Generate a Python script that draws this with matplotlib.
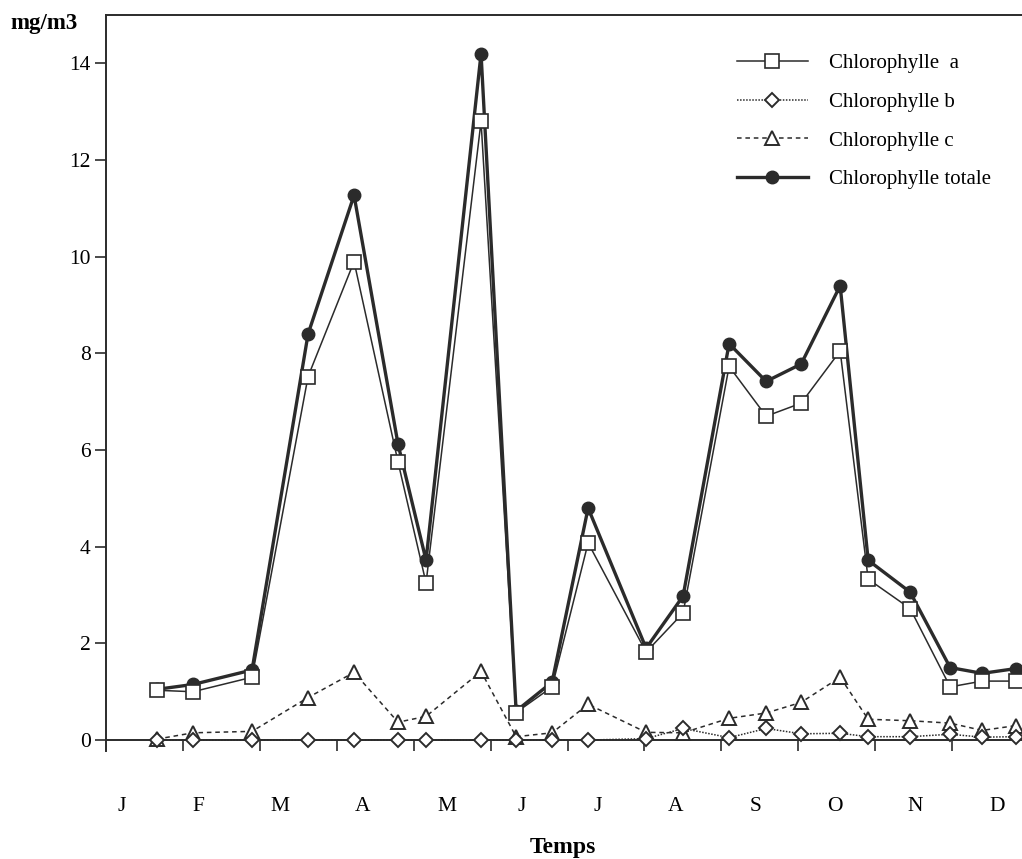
import numpy as np
import matplotlib
matplotlib.use("Agg")
import matplotlib.pyplot as plt

plt.rcParams["font.family"] = ["Liberation Serif", "DejaVu Serif"]

# sampling dates, in months from 1 January
sample_month = [0.663, 1.131, 1.899, 2.627, 3.225, 3.797, 4.161, 4.876, 5.332, 5.800, 6.268,
                7.022, 7.503, 8.101, 8.583, 9.038, 9.545, 9.909, 10.455, 10.975, 11.391, 11.834]

chl_a = [1.03, 1.00, 1.30, 7.52, 9.90, 5.75, 3.25, 12.80, 0.57, 1.10, 4.08,
         1.82, 2.63, 7.73, 6.70, 6.97, 8.05, 3.33, 2.72, 1.10, 1.22, 1.22]
chl_b = [0.0, 0.0, 0.0, 0.0, 0.0, 0.0, 0.0, 0.0, 0.0, 0.0, 0.0,
         0.03, 0.24, 0.05, 0.24, 0.13, 0.14, 0.07, 0.07, 0.12, 0.06, 0.07]
chl_c = [0.02, 0.15, 0.18, 0.88, 1.40, 0.37, 0.49, 1.42, 0.07, 0.15, 0.74,
         0.16, 0.15, 0.45, 0.56, 0.78, 1.30, 0.43, 0.40, 0.35, 0.20, 0.30]
chl_tot = [1.05, 1.15, 1.45, 8.40, 11.27, 6.12, 3.72, 14.20, 0.60, 1.20, 4.80,
           1.90, 2.98, 8.20, 7.42, 7.78, 9.40, 3.72, 3.06, 1.50, 1.38, 1.48]

month_labels = ["J", "F", "M", "A", "M", "J", "J", "A", "S", "O", "N", "D"]
month_label_pos = [0.21, 1.20, 2.26, 3.34, 4.43, 5.41, 6.39, 7.40, 8.44, 9.48, 10.52, 11.59]

ink = "#2b2b2b"

fig = plt.figure(figsize=(10.22, 8.59), dpi=100)
ax = fig.add_axes([106 / 1022, 1 - 750.7 / 859, 923 / 1022, 735.7 / 859])

ax.plot(sample_month, chl_tot, color=ink, lw=2.4, marker="o", ms=9,
        mfc=ink, mec=ink, label="Chlorophylle totale", zorder=3)
ax.plot(sample_month, chl_a, color=ink, lw=1.1, marker="s", ms=10,
        mfc="white", mec=ink, mew=1.2, label="Chlorophylle  a", zorder=4)
ax.plot(sample_month, chl_c, color=ink, lw=1.1, ls=(0, (3, 2.5)), marker="^", ms=9.5,
        mfc="white", mec=ink, mew=1.4, label="Chlorophylle c", zorder=5)
ax.plot(sample_month, chl_b, color=ink, lw=1.1, ls=(0, (1, 1)), marker="D", ms=7,
        mfc="white", mec=ink, mew=1.4, label="Chlorophylle b", zorder=6)

ax.set_xlim(0, 12)
ax.set_ylim(-0.22, 15)

ax.spines["right"].set_visible(False)
ax.spines["bottom"].set_position(("data", 0))
for s in ["left", "top", "bottom"]:
    ax.spines[s].set_color(ink)
    ax.spines[s].set_linewidth(1.4)

ax.set_yticks(np.arange(0, 15, 2))
ax.tick_params(axis="y", direction="out", length=8, width=1.2, color=ink,
               labelsize=15.5, pad=3)
ax.set_xticks(range(1, 12))
ax.set_xticklabels([])
ax.tick_params(axis="x", which="major", direction="out", length=8, width=1.2, color=ink)
ax.set_xticks(month_label_pos, month_labels, minor=True)
ax.tick_params(axis="x", which="minor", length=0, labelsize=15.5, pad=41)

handles, labels = ax.get_legend_handles_labels()
order = [1, 3, 2, 0]
ax.legend([handles[i] for i in order], [labels[i] for i in order],
          loc="upper left", bbox_to_anchor=(0.663, 0.973), frameon=False,
          fontsize=15, handlelength=3.4, handletextpad=1.05, labelspacing=0.92)

fig.text(10 / 1022, 1 - 23 / 859, "mg/m3", fontsize=16.5, fontweight="bold", va="center")
fig.text(563 / 1022, 1 - 858 / 859, "Temps", fontsize=17, fontweight="bold",
         va="bottom", ha="center")

fig.savefig("out.png", dpi=100)
